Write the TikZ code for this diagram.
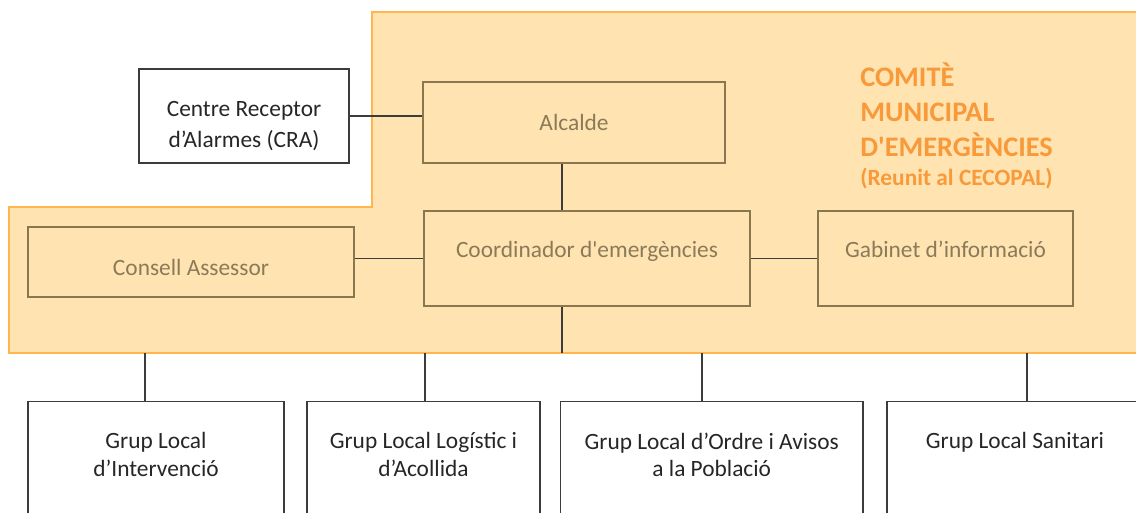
\documentclass[tikz,border=0pt]{standalone}
\usepackage{fontspec}
\setmainfont{Carlito}[Ligatures=TeXOff]
\usepackage{xcolor}
\usepackage{tikz}

\definecolor{comitefill}{HTML}{FFE4B2}
\definecolor{comiteline}{HTML}{FFB64F}
\definecolor{boxline}{HTML}{8A7750}
\definecolor{boxtext}{HTML}{8B7A58}
\definecolor{titleorange}{HTML}{F8993A}
\definecolor{linkline}{HTML}{3C3C3C}

\begin{document}
\begin{tikzpicture}[x=0.02cm, y=-0.02cm, font=\fontsize{13.3}{15.4}\selectfont,
  inbox/.style={rectangle, draw=boxline, line width=0.85pt, text=boxtext, align=center},
  outbox/.style={rectangle, draw=linkline, line width=0.85pt, text=black!85, align=center},
  grupbox/.style={outbox, anchor=north, inner xsep=2pt, inner ysep=0.62cm, text depth=3cm},
  link/.style={draw=linkline, line width=0.7pt}]
\useasboundingbox (0,0) rectangle (1136,513);
\clip (0,0) rectangle (1136,513);

\draw[fill=comitefill, draw=comiteline, line width=1.2pt] (9,207) -- (372,207) -- (372,12) -- (1160,12) -- (1160,353) -- (9,353) -- cycle;

\node (comite) [anchor=north west, align=left, inner sep=0pt, text=titleorange, font=\bfseries\fontsize{16.1}{19.9}\selectfont] at (860,62) {COMITÈ\\ MUNICIPAL\\ D'EMERGÈNCIES\\[-3pt] {\fontsize{13.3}{14}\selectfont (Reunit al CECOPAL)}};

\node (cra) [outbox, minimum width=4.2cm, minimum height=1.88cm, font=\fontsize{13.3}{17.6}\selectfont] at (244,116) {\rule{0pt}{0.71cm}Centre Receptor\\ d’Alarmes (CRA)};
\node (alcalde) [inbox, minimum width=6.04cm, minimum height=1.62cm] at (574,122.5) {Alcalde};
\node (coord) [inbox, minimum width=6.52cm, minimum height=1.9cm, text depth=0.35cm] at (587,258.5) {Coordinador d'emergències};
\node (gabinet) [inbox, minimum width=5.1cm, minimum height=1.9cm, text depth=0.35cm] at (945.5,258.5) {Gabinet d’informació};
\node (consell) [inbox, minimum width=6.52cm, minimum height=1.4cm] at (191,262) {\rule{0pt}{0.53cm}Consell Assessor};

\node (grup1) [grupbox, minimum width=5.12cm] at (156,401) {Grup Local\\ d’Intervenció};
\node (grup2) [grupbox, minimum width=4.66cm] at (423.5,401) {Grup Local Logístic i\\ d’Acollida};
\node (grup3) [grupbox, minimum width=6.05cm] at (711.75,401) {Grup Local d’Ordre i Avisos\\ a la Població};
\node (grup4) [grupbox, minimum width=5.12cm] at (1015,401) {Grup Local Sanitari};

\coordinate (spine) at (562,353);
\coordinate (g1) at (145,353);
\coordinate (g2) at (425,353);
\coordinate (g3) at (702,353);
\coordinate (g4) at (1027,353);

\draw[link] (cra.east) -- (cra.east -| alcalde.west);
\draw[link] (spine |- alcalde.south) -- (spine |- coord.north);
\draw[link] (spine |- coord.south) -- (spine);
\draw[link] (coord.west -| consell.east) -- (coord.west);
\draw[link] (coord.east) -- (gabinet.west);
\draw[link] (g1) -- (g1 |- grup1.north);
\draw[link] (g2) -- (g2 |- grup2.north);
\draw[link] (g3) -- (g3 |- grup3.north);
\draw[link] (g4) -- (g4 |- grup4.north);

\end{tikzpicture}
\end{document}
